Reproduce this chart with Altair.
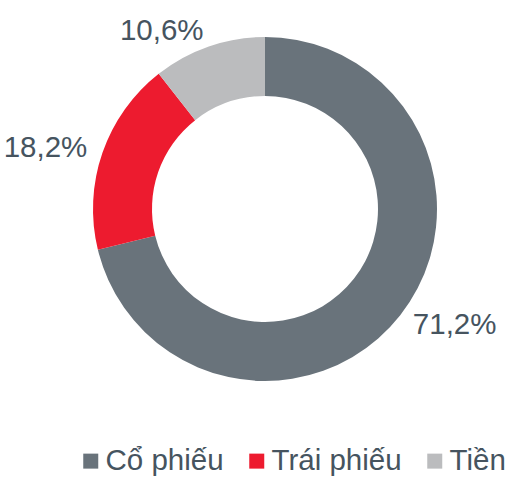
import math
import altair as alt
import pandas as pd

categories = ["Cổ phiếu", "Trái phiếu", "Tiền"]
shares = [71.2, 18.2, 10.6]
colors = ["#69737b", "#ed1b2f", "#bbbcbe"]

df = pd.DataFrame({"cat": categories, "share": shares})
df["end"] = df["share"].cumsum()
df["start"] = df["end"] - df["share"]
df["mid"] = (df["start"] + df["end"]) / 2
df["label"] = df["share"].map(lambda v: f"{v:.1f}%".replace(".", ","))
total = float(df["share"].sum())
df["side"] = df["mid"].map(lambda m: "right" if m < total / 2 else "left")

FONT = "Liberation Sans"
TEXT_COLOR = "#46545f"
CX, CY = 265, 209

theta_scale = alt.Scale(domain=[0, total], range=[0, 2 * math.pi])

base = alt.Chart(df)

arcs = base.mark_arc(outerRadius=172, innerRadius=113, strokeWidth=0).encode(
    theta=alt.Theta("start:Q", scale=theta_scale, stack=None),
    theta2="end:Q",
    color=alt.Color(
        "cat:N",
        sort=categories,
        scale=alt.Scale(domain=categories, range=colors),
        legend=alt.Legend(
            title=None,
            orient="none",
            legendX=76,
            legendY=446,
            direction="horizontal",
            symbolType="square",
            symbolSize=225,
            symbolStrokeWidth=0,
            symbolOpacity=1,
            labelFontSize=29.5,
            labelFont=FONT,
            labelColor=TEXT_COLOR,
            labelOffset=0,
            columnPadding=18,
            padding=0,
        ),
    ),
    x=alt.value(CX),
    y=alt.value(CY),
)

def label_layer(side, align):
    return base.transform_filter(f"datum.side == '{side}'").mark_text(
        align=align, baseline="middle", radius=188,
        fontSize=29.5, font=FONT, color=TEXT_COLOR,
    ).encode(
        theta=alt.Theta("mid:Q", scale=theta_scale, stack=None),
        text="label:N",
        x=alt.value(CX),
        y=alt.value(CY),
    )

chart = alt.layer(arcs, label_layer("right", "left"), label_layer("left", "right")).properties(
    width=520, height=477, padding=0, autosize=alt.AutoSizeParams(type="none"),
).configure_view(stroke=None)

chart.save("out.html", embed_options={"renderer": "svg", "actions": False})
